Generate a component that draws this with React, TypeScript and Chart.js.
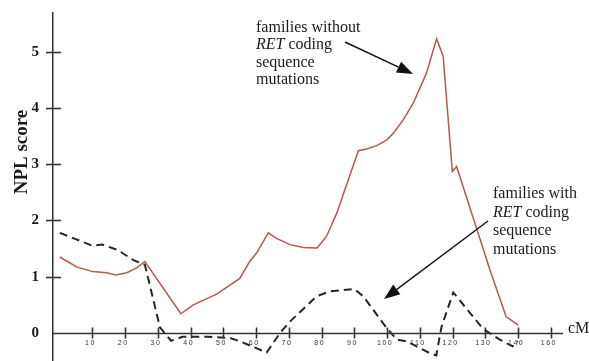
import React, { useEffect, useRef } from "react";
import { Chart, registerables } from "chart.js";

Chart.register(...registerables);

// Families without RET coding sequence mutations (solid red line)
const withoutCM = [0, 5.3, 10, 14.4, 17, 20.5, 23.6, 26, 37, 40.8, 47.9, 55, 58, 60.1, 63.7, 66.2, 70.3, 74.4, 78.6, 81.5, 84.6, 91.2, 93.7, 96.8, 99.8, 101.9, 104.9, 108, 112, 115.1, 117.1, 119.9, 121.2, 131.4, 136.3, 140];
const withoutNPL = [1.35, 1.17, 1.09, 1.07, 1.03, 1.07, 1.16, 1.27, 0.34, 0.5, 0.69, 0.97, 1.27, 1.42, 1.78, 1.68, 1.57, 1.52, 1.51, 1.72, 2.13, 3.24, 3.27, 3.33, 3.43, 3.55, 3.79, 4.09, 4.62, 5.23, 4.92, 2.87, 2.96, 1.12, 0.29, 0.14];

// Families with RET coding sequence mutations (dashed black line)
const withCM = [0, 10, 13, 17.5, 22.4, 26, 30.6, 34, 37.5, 45, 52, 55, 60, 63.2, 67.3, 70.3, 78.4, 82.5, 90, 92.7, 99.8, 103, 106, 113, 115, 116.6, 120.2, 129.3, 134.4, 138.3, 139.9];
const withNPL = [1.78, 1.55, 1.57, 1.48, 1.3, 1.21, 0.1, -0.14, -0.07, -0.07, -0.09, -0.15, -0.27, -0.35, 0, 0.2, 0.65, 0.74, 0.78, 0.65, 0.09, -0.12, -0.15, -0.36, -0.4, 0.11, 0.72, 0.07, -0.12, -0.24, -0.15];

const xTickValues = [10, 20, 30, 40, 50, 60, 70, 80, 90, 100, 110, 120, 130, 140, 150];
const xTickLabels = ["10", "20", "30", "40", "50", "60", "70", "80", "90", "100", "110", "120", "130", "140", "160"];
const yTickValues = [0, 1, 2, 3, 4, 5];
const yTickLabels = ["0", "1", "2", "3", "4", "5"];

const yTitle = "NPL score";
const xUnit = "cM";
const noteWithout = ["families without", "RET| coding", "sequence", "mutations"];
const noteWith = ["families with", "RET| coding", "sequence", "mutations"];

const SERIF = "'Liberation Serif', 'Times New Roman', serif";

function drawArrow(ctx: CanvasRenderingContext2D, x1: number, y1: number, x2: number, y2: number) {
  const ang = Math.atan2(y2 - y1, x2 - x1);
  const len = 16;
  const half = 6;
  const bx = x2 - len * Math.cos(ang);
  const by = y2 - len * Math.sin(ang);
  ctx.beginPath();
  ctx.moveTo(x1, y1);
  ctx.lineTo(bx, by);
  ctx.lineWidth = 1.4;
  ctx.strokeStyle = "#111";
  ctx.stroke();
  ctx.beginPath();
  ctx.moveTo(x2, y2);
  ctx.lineTo(bx + half * Math.sin(ang), by - half * Math.cos(ang));
  ctx.lineTo(bx - half * Math.sin(ang), by + half * Math.cos(ang));
  ctx.closePath();
  ctx.fillStyle = "#111";
  ctx.fill();
}

function drawNote(ctx: CanvasRenderingContext2D, lines: string[], x: number, y: number, lh: number) {
  ctx.textAlign = "left";
  ctx.textBaseline = "alphabetic";
  ctx.fillStyle = "#1a1a1a";
  lines.forEach((line, i) => {
    const yy = y + i * lh;
    if (line.includes("|")) {
      const [it, rest] = line.split("|");
      ctx.font = `italic 16px ${SERIF}`;
      ctx.fillText(it, x, yy);
      const w = ctx.measureText(it).width;
      ctx.font = `16px ${SERIF}`;
      ctx.fillText(rest, x + w, yy);
    } else {
      ctx.font = `16px ${SERIF}`;
      ctx.fillText(line, x, yy);
    }
  });
}

const zeroPadding = (s: any) => {
  s.paddingTop = 0;
  s.paddingBottom = 0;
  s.paddingLeft = 0;
  s.paddingRight = 0;
};

const overlay = {
  id: "overlay",
  afterDatasetsDraw(chart: any) {
    (chart.ctx as any).letterSpacing = "1.5px";
  },
  afterDraw(chart: any) {
    const ctx = chart.ctx as CanvasRenderingContext2D;
    (ctx as any).letterSpacing = "0px";
    ctx.save();
    const xs = chart.scales.x;
    const ys = chart.scales.y;
    const y0 = Math.round(ys.getPixelForValue(0)) + 0.5;
    const ax = chart.chartArea.left;
    const right = chart.chartArea.right;

    // x axis line at NPL = 0
    ctx.strokeStyle = "#333";
    ctx.lineWidth = 1.5;
    ctx.beginPath();
    ctx.moveTo(ax, y0);
    ctx.lineTo(right, y0);
    ctx.stroke();

    ctx.lineWidth = 1.6;
    xTickValues.forEach((v) => {
      const px = Math.round(xs.getPixelForValue(v)) + 0.5;
      ctx.beginPath();
      ctx.moveTo(px, y0 - 6);
      ctx.lineTo(px, y0 + 5);
      ctx.stroke();
    });
    yTickValues.slice(1).forEach((v) => {
      const py = Math.round(ys.getPixelForValue(v)) + 0.5;
      ctx.beginPath();
      ctx.moveTo(ax - 7, py);
      ctx.lineTo(ax + 8, py);
      ctx.stroke();
    });

    // y-axis title
    ctx.save();
    ctx.translate(27, 152);
    ctx.rotate(-Math.PI / 2);
    ctx.font = `bold 19px ${SERIF}`;
    ctx.fillStyle = "#1a1a1a";
    ctx.textAlign = "center";
    ctx.textBaseline = "alphabetic";
    ctx.fillText(yTitle, 0, 0);
    ctx.restore();

    // x unit
    ctx.font = `16px ${SERIF}`;
    ctx.fillStyle = "#1a1a1a";
    ctx.textAlign = "left";
    ctx.textBaseline = "alphabetic";
    ctx.fillText(xUnit, right + 5, y0 - 1);

    // annotations
    drawNote(ctx, noteWithout, 256, 32, 17.3);
    drawNote(ctx, noteWith, 493, 198, 18.7);
    drawArrow(ctx, 345, 42, 413, 74);
    drawArrow(ctx, 488, 221, 384, 299);
    ctx.restore();
  },
};

export default function App() {
  const ref = useRef<HTMLCanvasElement | null>(null);
  useEffect(() => {
    document.body.style.margin = "0";
    const canvas = ref.current;
    if (!canvas) return;
    const chart = new Chart(canvas, {
      type: "line",
      data: {
        datasets: [
          {
            label: "families without RET coding sequence mutations",
            data: withoutCM.map((x, i) => ({ x, y: withoutNPL[i] })),
            borderColor: "#b9574b",
            borderWidth: 1.5,
            pointRadius: 0,
            tension: 0,
            fill: false,
          },
          {
            label: "families with RET coding sequence mutations",
            data: withCM.map((x, i) => ({ x, y: withNPL[i] })),
            borderColor: "#262626",
            borderWidth: 2,
            borderDash: [8, 5],
            pointRadius: 0,
            tension: 0,
            fill: false,
          },
        ],
      },
      options: {
        animation: false,
        responsive: false,
        devicePixelRatio: 1,
        events: [],
        layout: { padding: { left: 0, top: 13, right: 26, bottom: 0 } },
        plugins: { legend: { display: false }, tooltip: { enabled: false } },
        scales: {
          x: {
            type: "linear",
            min: -2.06,
            max: 153.7,
            position: { y: 0 } as any,
            grid: { display: false, drawTicks: false },
            border: { display: false },
            afterFit: zeroPadding,
            afterBuildTicks: (s: any) => {
              s.ticks = xTickValues.map((v) => ({ value: v }));
            },
            ticks: {
              z: 1,
              padding: 6,
              labelOffset: -2,
              autoSkip: false,
              maxRotation: 0,
              font: { family: "'Liberation Sans', Arial, sans-serif", size: 7 },
              color: "#333",
              callback: (v: any) => xTickLabels[xTickValues.indexOf(Number(v))] ?? "",
            },
          },
          y: {
            type: "linear",
            min: -0.5,
            max: 5.69,
            afterFit: (s: any) => {
              s.width = 53;
              zeroPadding(s);
            },
            grid: { display: false, drawTicks: false },
            border: { display: true, color: "#333", width: 1.5 },
            afterBuildTicks: (s: any) => {
              s.ticks = yTickValues.map((v) => ({ value: v }));
            },
            ticks: {
              padding: 14,
              font: { family: SERIF, size: 15, weight: "bold" },
              color: "#1a1a1a",
              callback: (v: any) => yTickLabels[yTickValues.indexOf(Number(v))] ?? "",
            },
          },
        },
      },
      plugins: [overlay],
    });
    return () => chart.destroy();
  }, []);
  return (
    <div style={{ width: 589, height: 361, background: "#fff" }}>
      <canvas ref={ref} width={589} height={361} style={{ display: "block" }} />
    </div>
  );
}
